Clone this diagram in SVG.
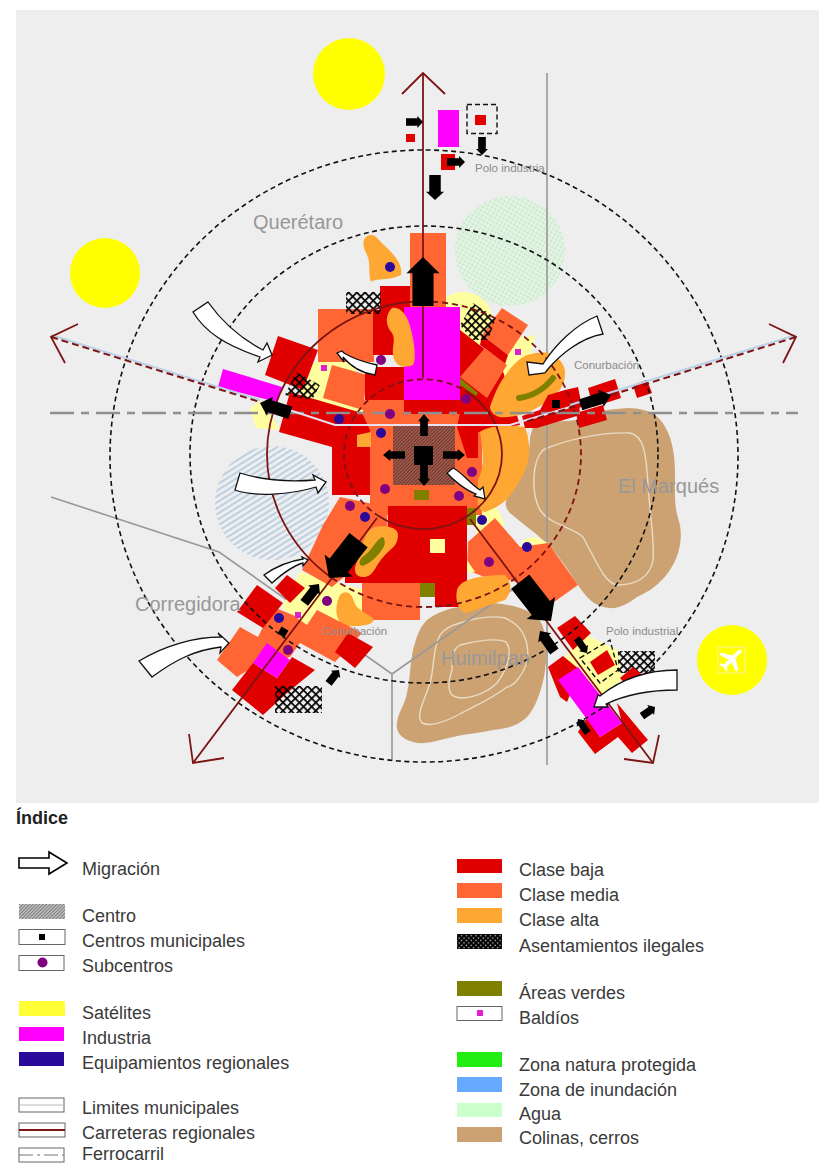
<svg xmlns="http://www.w3.org/2000/svg" width="819" height="1165" viewBox="0 0 819 1165">
<style>
text{font-family:"Liberation Sans",Arial,sans-serif}
.lg{font-size:18px;fill:#3a3a3a}
.big{font-size:20px;fill:#989898}
.sm{font-size:11.500px;fill:#8c8c8c}
.red{fill:#e00000}.org{fill:#ff6633}.alta{fill:#ffa733}.pale{fill:#ffffa0}.mag{fill:#ff00ff}.oli{fill:#808000}.hill{fill:#cca273}
.ill{fill:url(#ill)}
.pur{fill:#800080}.blu{fill:#2a0a9a}.pnk{fill:#e020d0}
.cont{fill:none;stroke:#e8dcc4;stroke-width:1.4}
.mun{fill:none;stroke:#989898;stroke-width:1.6}
.road{fill:none;stroke:#7d1414;stroke-width:1.8}
.dk{fill:none;stroke:#111;stroke-width:1.6;stroke-dasharray:5 3.5}
.dr{fill:none;stroke:#7d1414;stroke-width:1.8;stroke-dasharray:6 4}
.mig{fill:#fff;stroke:#111;stroke-width:1.3;stroke-linejoin:miter}
.box{fill:#fff;stroke:#666;stroke-width:1}
</style>
<defs>
<pattern id="ill" width="5.800" height="5.800" patternUnits="userSpaceOnUse" patternTransform="rotate(45)"><path d="M0,0H5.800M0,0V5.800" stroke="#000" stroke-width="3.400" fill="none"/></pattern>
<pattern id="ill2" width="3.400" height="3.400" patternUnits="userSpaceOnUse" patternTransform="rotate(45)"><rect width="3.400" height="3.400" fill="#000"/><rect x="1.400" y="1.400" width="1.300" height="1.300" fill="#ddd"/></pattern>
<pattern id="ctr" width="2.400" height="2.400" patternUnits="userSpaceOnUse" patternTransform="rotate(-45)"><path d="M0,0H2.400" stroke="#402020" stroke-width="1" fill="none"/></pattern>
<pattern id="ctl" width="2.400" height="2.400" patternUnits="userSpaceOnUse" patternTransform="rotate(-45)"><rect width="2.400" height="2.400" fill="#bbb"/><path d="M0,0H2.400" stroke="#555" stroke-width="1.100" fill="none"/></pattern>
<pattern id="flood" width="5" height="5" patternUnits="userSpaceOnUse" patternTransform="rotate(-32)"><path d="M0,1H5" stroke="#b4cbe2" stroke-width="1.700" fill="none"/></pattern>
<pattern id="water" width="4" height="4" patternUnits="userSpaceOnUse" patternTransform="rotate(30)"><rect width="4" height="4" fill="#e4f3e4"/><circle cx="1.500" cy="1.500" r="1" fill="#b8e4bc"/></pattern>
<polygon id="arr" points="0,0 .5,.33 .32,.33 .32,1 -.32,1 -.32,.33 -.5,.33" fill="#000"/>
</defs>

<rect id="panel" x="16" y="10" width="803" height="793" fill="#eeeeee"/>

<g id="sol">
<circle cx="349" cy="74" r="36" fill="#ffff00"/>
<circle cx="105" cy="273" r="35" fill="#ffff00"/>
</g>
<g id="aeropuerto">
<circle cx="732" cy="660" r="35" fill="#ffff00"/>
<rect x="718" y="647" width="27" height="26" fill="none" stroke="#fff2a0" stroke-width="1"/>
<path transform="translate(732,659) rotate(45)" fill="#fff" d="M0,-13C1.500,-13 2,-11 2,-9V-3L12,3V6L2,3V9L5,11.500V13L0,12L-5,13V11.500L-2,9V3L-12,6V3L-2,-3V-9C-2,-11 -1.500,-13 0,-13Z"/>
</g>

<g id="natural">
<circle cx="510" cy="251" r="55" fill="url(#water)"/>
<circle cx="272" cy="503" r="57" fill="url(#flood)"/>
<path id="elmarques" class="hill" d="M627,408C642,408 655,412 662,422C672,435 675,455 675,473C675,490 674,505 678,518C684,535 680,555 670,570C660,585 648,592 637,597C628,604 618,609 610,608C598,607 592,602 587,597C577,585 570,572 563,563C556,553 550,546 543,540C532,530 520,522 510,513C505,508 505,502 507,497C515,487 520,480 523,470C528,458 530,447 530,437L533,427C548,420 562,422 577,420C590,418 598,412 607,410Z"/>
<path class="cont" d="M529,433C512,450 507,475 507,497"/>
<path class="cont" d="M630,433C642,436 646,447 648,485C650,515 655,545 653,560C650,578 635,585 617,585C605,583 598,565 583,537C573,527 550,525 540,510C530,490 533,460 543,450C565,440 600,432 630,433Z"/>
<path id="huimilpan" class="hill" d="M493,603C515,605 530,610 538,618C548,630 548,655 544,677C540,695 535,708 527,717C515,728 505,728 493,730C480,733 465,734 453,737C440,740 428,744 417,743C403,740 395,733 397,723C398,712 405,705 407,693C410,680 410,665 413,650C417,635 420,627 427,620C437,612 450,608 460,607Z"/>
<path class="cont" d="M460,623C475,618 490,615 505,618C520,625 528,635 528,657C525,675 512,687 507,687C490,700 470,708 460,714C445,722 430,727 422,723C415,715 425,700 430,683C435,665 432,650 440,635C445,628 452,625 460,623Z"/>
<path class="cont" d="M460,645C478,640 498,638 506,642C512,650 510,665 497,683C485,695 465,700 456,697C448,695 447,685 452,670C452,658 452,650 460,645Z"/>
</g>

<g id="limites">
<path class="mun" d="M547,73V765"/>
<path class="mun" d="M51,497L219,552L392,674V760M392,674L547,565"/>
</g>

<g id="ciudad">
<circle cx="463" cy="322" r="30" class="pale"/>
<polygon class="pale" points="316,362 352,350 365,420 330,420 300,395 300,370"/>
<polygon class="pale" points="510,340 535,335 530,360 500,385 490,400"/>
<polygon class="pale" points="250,408 262,400 280,430 256,428"/>
<polygon class="pale" points="476,510 497,508 505,525 476,537"/>
<polygon class="pale" points="518,549 525,539 535,537 548,543 535,552"/>
<polygon class="pale" points="282,608 300,572 345,585 365,590 362,620 345,625 317,610 307,625"/>
<polygon class="pale" points="560,665 583,633 617,650 622,677 610,703 590,707"/>

<rect class="org" x="410" y="233" width="36" height="74"/>
<rect class="red" x="380" y="286" width="30" height="30"/>
<rect class="org" x="318" y="309" width="56" height="53"/>
<rect class="red" x="373" y="310" width="33" height="45"/>
<polygon class="red" points="278,336 318,350 303,390 265,375"/>
<polygon class="org" points="332,365 367,375 363,410 323,398"/>
<rect class="red" x="365" y="367" width="40" height="33"/>
<rect class="org" x="363" y="400" width="45" height="30"/>
<polygon class="red" points="290,392 362,413 370,430 370,495 332,495 332,447 279,432"/>
<rect class="org" x="370" y="405" width="112" height="110"/>
<polygon class="alta" points="357,435 371,432 371,447 357,447"/>
<rect class="mag" x="404" y="307" width="56" height="93"/>
<rect class="red" x="404" y="400" width="56" height="14"/>
<polygon class="red" points="460,330 482,347 500,362 520,425 478,432 478,458 467,458 457,427 460,413"/>
<polygon class="org" points="502,308 528,325 508,355 482,335"/>
<polygon class="red" points="482,335 508,355 505,364 480,345"/>
<polygon class="org" points="485,348 507,365 487,398 460,377"/>
<polygon class="oli" points="460,378 478,393 476,396 460,385"/>
<polygon class="mag" points="223,369 282,387 277,402 218,387"/>

<polygon class="org" points="323,525 340,497 387,507 388,540 332,587 302,570"/>
<rect class="red" x="388" y="506" width="79" height="78"/>
<polygon class="red" points="388,535 388,583 345,583 345,565"/>
<polygon class="red" points="467,583 460,607 435,607 435,583"/>
<rect class="org" x="362" y="583" width="58" height="37"/>
<rect class="oli" x="420" y="583" width="15" height="14"/>
<rect class="pale" x="430" y="539" width="15" height="14"/>
<polygon class="org" points="468,542 495,518 520,547 548,543 578,585 547,607 530,587 510,580 492,580 467,570"/>
<rect class="oli" x="467" y="508" width="9" height="17"/>
<polygon class="pale" points="467,560 475,572 467,572"/>

<path class="alta" d="M480,432C490,425 510,425 525,427C532,445 530,465 520,480C512,495 505,505 485,512C475,510 478,495 478,480C486,465 482,445 480,432Z"/>
<path class="alta" d="M398,535C398,527 385,525 375,527C365,530 362,545 358,560C352,570 355,578 365,577C375,575 375,565 385,555C392,548 398,545 398,535Z"/>
<path class="oli" d="M382,537C385,537 386,544 383,548C378,556 370,564 362,566C357,564 360,558 365,555C372,550 376,540 382,537Z"/>
<path class="alta" d="M457,590C460,578 485,575 505,575C512,582 512,592 505,600C490,605 475,610 465,613C458,610 455,600 457,590Z"/>
<path class="alta" d="M340,595C345,590 352,592 354,602C358,612 372,615 374,620C370,628 352,625 345,627C337,622 333,610 340,595Z"/>
<path class="alta" d="M392,308C400,306 408,315 411,330C415,345 416,360 413,365C405,368 395,368 393,355C392,345 396,340 392,333C385,325 385,315 392,308Z"/>
<path class="alta" d="M367,236C375,232 378,240 384,245C395,255 403,265 401,275C390,281 375,278 371,282C368,275 371,262 367,255C362,245 362,240 367,236Z"/>
<path class="alta" d="M490,407C495,392 500,382 507,373C515,362 522,357 527,355C537,352 545,352 550,353C560,358 565,365 565,373C565,382 562,388 557,393C550,400 542,405 533,410C522,415 510,418 500,417C495,416 490,412 490,407Z"/>
<path fill="none" stroke="#808000" stroke-width="6" stroke-linecap="round" d="M519,398C535,396 545,388 553,378"/>
<rect class="ill" x="346" y="292" width="35" height="22"/>
<polygon class="ill" points="473,303 496,318 488,340 472,340 460,325"/>
<polygon class="ill" points="296,372 320,385 312,400 285,395"/>

<g id="arm-derecho">
<polygon class="red" points="522,416 540,410 548,395 565,390 578,390 580,415 537,428 525,428"/>
<polygon class="red" points="565,390 578,387 582,407 568,410"/>
<polygon class="red" points="588,388 615,379 621,398 593,407"/>
<polygon class="red" points="633,385 647,380 652,393 637,398"/>
<polygon class="red" points="576,413 603,405 607,420 579,428"/>
<rect x="552" y="400" width="8" height="8" fill="#000"/>
</g>

<g id="cluster-so">
<polygon class="org" points="217,660 240,627 258,637 273,607 293,615 307,625 317,610 362,633 335,662 300,643 290,657 253,667 237,677"/>
<polygon class="red" points="257,585 283,603 263,628 237,612"/>
<polygon class="red" points="287,575 305,588 290,603 275,588"/>
<polygon class="red" points="348,633 373,647 355,668 335,652"/>
<polygon class="red" points="232,690 253,663 277,678 292,657 315,670 287,693 263,715"/>
<polygon class="mag" points="267,643 290,660 277,678 253,663"/>
<rect class="ill" x="275" y="686" width="47" height="27"/>
<rect x="279" y="628" width="8" height="8" fill="#000" transform="rotate(30 283 632)"/>
</g>

<g id="cluster-se">
<polygon class="red" points="557,628 575,616 591,633 573,650"/>
<polygon class="red" points="548,667 563,656 580,670 567,702 560,697"/>
<polygon class="red" points="578,732 587,718 600,737 622,723 617,703 648,740 632,753 618,737 595,754"/>
<polygon class="mag" points="558,680 578,667 622,723 600,737"/>
<polygon class="red" points="590,662 607,650 615,665 598,675"/>
<rect class="ill" x="618" y="651" width="37" height="22"/>
<polygon class="red" points="620,678 633,667 645,677 633,693"/>
<polygon fill="none" stroke="#111" stroke-width="1.400" stroke-dasharray="5 3" points="580,658 610,640 618,670 600,683"/>
</g>

<rect fill="#a05848" x="393" y="426" width="62" height="59"/>
<rect fill="url(#ctr)" x="393" y="426" width="62" height="59"/>
<rect class="oli" x="414" y="490" width="15" height="10"/>
</g>

<g id="conectores">
<ellipse class="dk" cx="424" cy="456" rx="314" ry="306"/>
<ellipse class="dk" cx="424" cy="454.500" rx="234" ry="228.500"/>
<path class="road" d="M437,302A157,153 0 0 0 267,454A157,153 0 0 0 332,578"/>
<path class="dr" d="M332,578A157,153 0 0 0 581,454A157,153 0 0 0 437,302"/>
<path class="dr" d="M470,394A79,75 0 0 0 344,454A79,75 0 0 0 377,515"/>
<path class="road" d="M377,515A79,75 0 0 0 502,454A79,75 0 0 0 470,394"/>

<path d="M50,413H798" fill="none" stroke="#8e8e8e" stroke-width="2.600" stroke-dasharray="24 7 8 7"/>

<path d="M423,73V378" class="road"/>
<path d="M402,94L423,73L445,94" class="road"/>
<path d="M51,335L260,400" fill="none" stroke="#bcd0e8" stroke-width="2"/>
<path d="M51,337L260,402" fill="none" stroke="#7d1414" stroke-width="2" stroke-dasharray="7 4"/>
<path d="M78,324L51,337L65,363" class="road"/>
<path d="M262,401L335,425H510L570,407" fill="none" stroke="#e8e0f0" stroke-width="2"/>
<path d="M796,335L570,405" fill="none" stroke="#bcd0e8" stroke-width="2"/>
<path d="M796,337L525,422" fill="none" stroke="#7d1414" stroke-width="2" stroke-dasharray="7 4"/>
<path d="M769,324L796,337L783,363" class="road"/>
<path d="M377,518L193,763" class="road"/>
<path d="M189,734L193,763L224,758" class="road"/>
<path d="M470,519L653,763" class="road"/>
<path d="M659,735L653,763L624,759" class="road"/>
</g>

<g id="polo-norte">
<rect class="mag" x="438" y="110" width="21" height="37"/>
<rect class="red" x="475" y="115" width="11" height="10"/>
<rect x="467" y="104.500" width="30" height="29" fill="none" stroke="#111" stroke-width="1.400" stroke-dasharray="5 3"/>
<rect class="red" x="406" y="134" width="9" height="8"/>
<rect class="red" x="441" y="154" width="14" height="16"/>
</g>

<g id="flujos">
<use href="#arr" transform="translate(423,257) scale(33,49)"/>
<use href="#arr" transform="translate(435,200) rotate(180) scale(18,25)"/>
<use href="#arr" transform="translate(482,155) rotate(180) scale(12,18)"/>
<use href="#arr" transform="translate(423,122) rotate(90) scale(12,17)"/>
<use href="#arr" transform="translate(465,162) rotate(90) scale(12,18)"/>
<use href="#arr" transform="translate(424,414) scale(12,22)"/>
<use href="#arr" transform="translate(424,486) rotate(180) scale(12,22)"/>
<use href="#arr" transform="translate(383,455) rotate(270) scale(12,22)"/>
<use href="#arr" transform="translate(465,455) rotate(90) scale(12,22)"/>
<use href="#arr" transform="translate(260,403) rotate(288) scale(20,32)"/>
<use href="#arr" transform="translate(611,395) rotate(72) scale(18,32)"/>
<use href="#arr" transform="translate(329,578) rotate(218) scale(36,48)"/>
<use href="#arr" transform="translate(551,621) rotate(142) scale(36,50)"/>
<use href="#arr" transform="translate(319,584) rotate(38) scale(15,24)"/>
<use href="#arr" transform="translate(339,670) rotate(38) scale(12,17)"/>
<use href="#arr" transform="translate(540,631) rotate(-35) scale(16,25)"/>
<use href="#arr" transform="translate(587,653) rotate(145) scale(11,18)"/>
<use href="#arr" transform="translate(655,707) rotate(55) scale(12,16)"/>
<use href="#arr" transform="translate(578,719) rotate(-35) scale(11,17)"/>
</g>

<g id="migracion">
<path class="mig" d="M208,302C222,322 240,338 263,350L267,343L272,355L258,362L260,357C225,345 205,332 193,312Z"/>
<path class="mig" d="M377,365C363,362 352,358 344,353L342,351L337,353L344,362L343,357C352,368 362,373 375,375Z"/>
<path class="mig" d="M240,473C262,480 290,482 315,480L313,475L326,482L318,493L316,487C290,495 255,497 235,490Z"/>
<path class="mig" d="M453,468C462,472 470,484 480,490L483,487L485,499L474,496L476,494C465,490 453,480 447,473Z"/>
<path class="mig" d="M264,575C278,565 290,561 303,559L302,557L308,560L303,566L303,563C292,566 282,574 272,583Z"/>
<path class="mig" d="M139,661C165,645 195,637 221,637L218,633L229,643L220,653L221,647C195,650 175,660 152,677Z"/>
<path class="mig" d="M597,316C575,325 555,345 543,364L527,362L529,375L545,373L548,369C560,355 580,338 603,334Z"/>
<path class="mig" d="M677,670C645,670 620,680 600,696L598,695L594,707L608,707L606,704C625,695 650,690 677,690Z"/>
</g>

<g id="puntos">
<g class="blu">
<circle cx="390" cy="267" r="5"/><circle cx="339" cy="419" r="5"/><circle cx="381" cy="433" r="5"/><circle cx="365" cy="517" r="5"/><circle cx="482" cy="520" r="5"/><circle cx="527" cy="547" r="5"/><circle cx="279" cy="618" r="5"/>
</g>
<g class="pur">
<circle cx="381" cy="360" r="5"/><circle cx="466" cy="399" r="5"/><circle cx="390" cy="414" r="5"/><circle cx="472" cy="472" r="5"/><circle cx="459" cy="496" r="5"/><circle cx="385" cy="489" r="5"/><circle cx="350" cy="506" r="5"/><circle cx="489" cy="562" r="5"/><circle cx="327" cy="601" r="5"/><circle cx="288" cy="650" r="5"/>
</g>
<g class="pnk">
<rect x="321" y="365" width="6" height="6"/><rect x="515" y="349" width="6" height="6"/><rect x="295" y="612" width="6" height="6"/>
</g>
<rect x="414" y="446" width="19" height="19" fill="#000"/>
</g>

<g id="etiquetas">
<text class="big" x="253" y="229">Querétaro</text>
<text class="big" x="618" y="493">El Marqués</text>
<text class="big" x="441" y="665">Huimilpan</text>
<text class="big" x="135" y="611">Corregidora</text>
<text class="sm" x="475" y="172">Polo industria</text>
<text class="sm" x="574" y="369">Conurbación</text>
<text class="sm" x="322" y="635">Conurbación</text>
<text class="sm" x="606" y="635">Polo industrial</text>
</g>

<g id="indice">
<text x="16" y="824" font-size="18" font-weight="bold" fill="#222">Índice</text>
<polygon points="19,858 49,858 49,852 67,863 49,874 49,868 19,868" fill="#fff" stroke="#000" stroke-width="1.600"/>
<rect x="19" y="904" width="46" height="15" fill="url(#ctl)"/>
<rect class="box" x="19" y="929.500" width="46" height="15"/>
<rect x="39" y="934" width="6" height="6" fill="#000"/>
<rect class="box" x="19" y="955.500" width="45" height="15"/>
<circle cx="42.500" cy="962.500" r="5" fill="#800080"/>
<rect x="19" y="1001" width="46" height="15" fill="#ffff33"/>
<rect x="19" y="1027" width="45" height="14" fill="#ff00ff"/>
<rect x="19" y="1052" width="45" height="14" fill="#2a0a9a"/>
<rect class="box" x="19" y="1098" width="45" height="14" stroke="#888"/>
<path d="M19,1105H64" stroke="#bbb" stroke-width="1"/>
<rect class="box" x="19" y="1123" width="46" height="14"/>
<path d="M19,1130H65" stroke="#7d1414" stroke-width="2"/>
<rect class="box" x="19" y="1148" width="45" height="14"/>
<path d="M19,1155H64" stroke="#777" stroke-width="1.200" stroke-dasharray="14 4 3 4"/>
<text class="lg" x="82" y="875">Migración</text>
<text class="lg" x="82" y="922">Centro</text>
<text class="lg" x="82" y="947">Centros municipales</text>
<text class="lg" x="82" y="972">Subcentros</text>
<text class="lg" x="82" y="1019">Satélites</text>
<text class="lg" x="82" y="1044">Industria</text>
<text class="lg" x="82" y="1069">Equipamientos regionales</text>
<text class="lg" x="82" y="1114">Limites municipales</text>
<text class="lg" x="82" y="1139">Carreteras regionales</text>
<text class="lg" x="82" y="1160">Ferrocarril</text>

<rect x="457" y="859" width="45" height="14" fill="#e00000"/>
<rect x="457" y="883" width="45" height="15" fill="#ff6633"/>
<rect x="457" y="908" width="45" height="15" fill="#ffa733"/>
<rect x="457" y="934" width="45" height="15" fill="url(#ill2)"/>
<rect x="457" y="981" width="45" height="15" fill="#808000"/>
<rect class="box" x="457" y="1006.500" width="45" height="14"/>
<rect x="477" y="1010" width="6" height="6" fill="#e020d0"/>
<rect x="457" y="1052" width="45" height="15" fill="#22ee11"/>
<rect x="457" y="1077" width="45" height="15" fill="#66aaff"/>
<rect x="457" y="1103" width="45" height="14" fill="#ccffcc"/>
<rect x="457" y="1127" width="45" height="15" fill="#cca273"/>
<text class="lg" x="519" y="876">Clase baja</text>
<text class="lg" x="519" y="901">Clase media</text>
<text class="lg" x="519" y="926">Clase alta</text>
<text class="lg" x="519" y="952">Asentamientos ilegales</text>
<text class="lg" x="519" y="999">Áreas verdes</text>
<text class="lg" x="519" y="1024">Baldíos</text>
<text class="lg" x="519" y="1071">Zona natura protegida</text>
<text class="lg" x="519" y="1096">Zona de inundación</text>
<text class="lg" x="519" y="1120">Agua</text>
<text class="lg" x="519" y="1144">Colinas, cerros</text>
</g>
</svg>
